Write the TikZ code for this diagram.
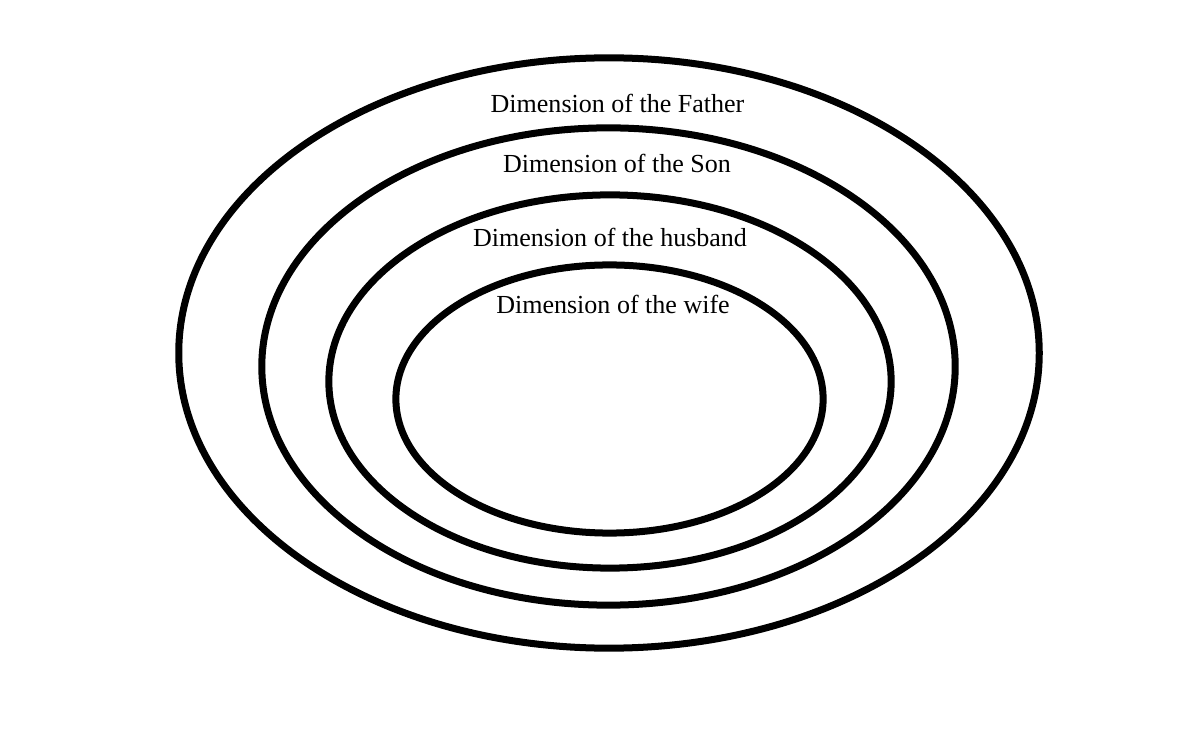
\documentclass[tikz,border=0pt]{standalone}
\usepackage{fontspec}
\setmainfont{Liberation Serif}
\usetikzlibrary{shapes}
\tikzstyle{ring} =[ellipse, draw, line width=0.07cm, inner sep=0pt]
\tikzstyle{dimlabel} =[anchor=base, inner sep=0pt, font=\fontsize{7.4}{9}\selectfont]

\begin{document}
\begin{tikzpicture}[x=0.01cm, y=-0.01cm]
\useasboundingbox (0,0) rectangle (1185,743);

\node (fatherRing) [ring, minimum width=8.60cm, minimum height=5.90cm] at (609,353) {};
\node (sonRing) [ring, minimum width=6.93cm, minimum height=4.77cm] at (608.5,366.5) {};
\node (husbandRing) [ring, minimum width=5.62cm, minimum height=3.73cm] at (610,381.5) {};
\node (wifeRing) [ring, minimum width=4.27cm, minimum height=2.68cm] at (609.5,399) {};

\node (fatherLabel) [dimlabel] at (617.5,112.5) {Dimension of the Father};
\node (sonLabel) [dimlabel] at (617,173) {Dimension of the Son};
\node (husbandLabel) [dimlabel] at (610,246.5) {Dimension of the husband};
\node (wifeLabel) [dimlabel] at (613,314) {Dimension of the wife};

\end{tikzpicture}
\end{document}
